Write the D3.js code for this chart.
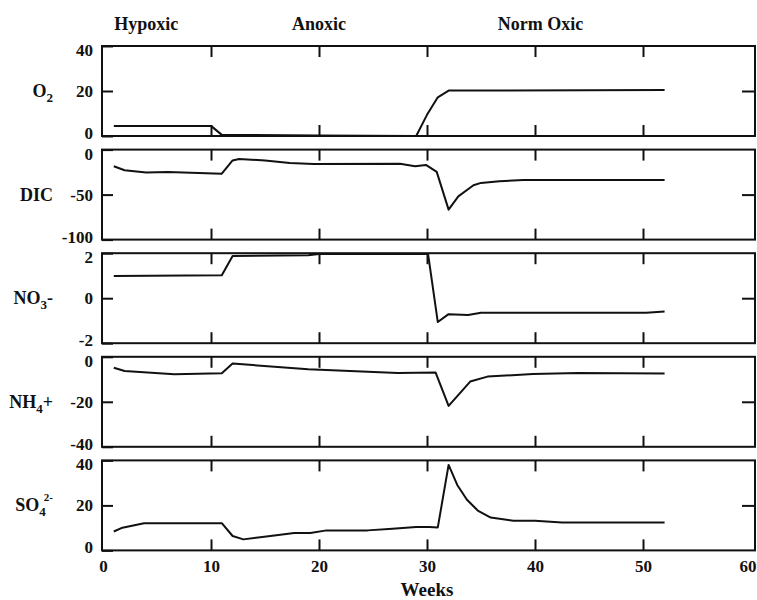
<!DOCTYPE html>
<html>
<head>
<meta charset="utf-8">
<script src="https://cdn.jsdelivr.net/npm/d3@7"></script>
<style>
  html, body { margin: 0; padding: 0; background: #fff; }
  svg { display: block; }
  text { font-family: "Liberation Serif", "Times New Roman", serif; font-weight: bold; fill: #111; }
</style>
</head>
<body>
<svg id="chart" width="757" height="600"></svg>
<script>
// Weekly water-chemistry series through three oxygen regimes
const phases = ["Hypoxic", "Anoxic", "Norm Oxic"];
const phaseCenters = [4, 20, 40.5];

const xTicks = [0, 10, 20, 30, 40, 50, 60];

const o2Weeks = [1, 10, 11, 20, 29, 30, 31, 32, 52];
const o2Vals  = [4.5, 4.5, 0.5, 0.2, 0, 9.4, 17.2, 20.2, 20.4];

const dicWeeks = [1, 2, 4, 6, 11, 12, 12.6, 15, 17.3, 19.5, 27.5, 28.9, 29.9, 30.9, 32, 32.9, 34.3, 35, 36.7, 38.9, 52];
const dicVals  = [-18.5, -23, -25.5, -24.8, -26.7, -12, -10.4, -12, -15, -16, -15.8, -18.5, -17, -24.8, -66.7, -52, -39.6, -37, -35.2, -33.7, -33.7];

const no3Weeks = [1, 11, 12, 19, 20, 30.1, 31, 32, 33.8, 35, 50.3, 52];
const no3Vals  = [0.99, 1.02, 1.88, 1.91, 1.96, 1.96, -1.06, -0.71, -0.75, -0.65, -0.65, -0.59];

const nh4Weeks = [1, 2, 6.6, 11, 12, 19, 27.3, 30.8, 32, 34, 35.6, 39.8, 44, 52];
const nh4Vals  = [-4.9, -6.3, -7.8, -7.3, -3.0, -5.5, -7.2, -7.0, -21.8, -11, -8.8, -7.6, -7.2, -7.4];

const so4Weeks = [1, 1.8, 3.8, 11, 12, 13, 15.5, 17.7, 19.2, 20.7, 24.5, 26.8, 29, 30.2, 31, 32, 32.8, 33.7, 34.7, 35.9, 38, 40, 42.5, 52];
const so4Vals  = [8.4, 10.1, 12.1, 12.1, 6.4, 4.9, 6.4, 7.7, 7.7, 8.9, 8.9, 9.6, 10.4, 10.4, 10.2, 38, 29.1, 22.5, 17.7, 14.6, 13.2, 13.2, 12.4, 12.4];

const panels = [
  { name: "O2",  label: [["O"], ["2", "sub"]],                domain: [0, 40],   ticks: [0, 20, 40],    weeks: o2Weeks,  vals: o2Vals },
  { name: "DIC", label: [["DIC"]],                            domain: [-100, 0], ticks: [-100, -50, 0], weeks: dicWeeks, vals: dicVals },
  { name: "NO3", label: [["NO"], ["3", "sub"], ["-"]],         domain: [-2, 2],   ticks: [-2, 0, 2],     weeks: no3Weeks, vals: no3Vals },
  { name: "NH4", label: [["NH"], ["4", "sub"], ["+"]],         domain: [-40, 0],  ticks: [-40, -20, 0],  weeks: nh4Weeks, vals: nh4Vals },
  { name: "SO4", label: [["SO"], ["4", "sub"], ["2-", "sup"]], domain: [0, 40],   ticks: [0, 20, 40],    weeks: so4Weeks, vals: so4Vals }
];

const svg = d3.select("#chart");
const left = 103, right = 751;
const panelH = 90, panelTop0 = 46, panelStep = 103.6;
const tickLen = 11;
const plainNum = d => String(d);   // ASCII hyphen for negatives

const x = d3.scaleLinear().domain([0, 60]).range([left, right]);

// Phase headings above the top panel
svg.selectAll("text.phase")
  .data(phases)
  .join("text")
  .attr("class", "phase")
  .attr("x", (d, i) => x(phaseCenters[i]))
  .attr("y", 30)
  .attr("text-anchor", "middle")
  .attr("font-size", 18)
  .text(d => d);

panels.forEach((p, i) => {
  const top = panelTop0 + i * panelStep;
  const y = d3.scaleLinear().domain(p.domain).range([top + panelH, top]);
  const g = svg.append("g");
  const isLast = i === panels.length - 1;

  // bottom axis: inward ticks, labels only on the last panel
  const bottomAxis = d3.axisBottom(x)
    .tickValues(isLast ? xTicks : xTicks.slice(1, -1))
    .tickSize(-tickLen)
    .tickPadding(isLast ? 10 : 0)
    .tickFormat(isLast ? plainNum : () => "");
  const gb = g.append("g").attr("transform", `translate(0,${top + panelH})`).call(bottomAxis);
  if (isLast) {
    gb.selectAll(".tick").filter(d => d === 0 || d === 60).select("line").remove();
    gb.selectAll(".tick").filter(d => d === 60).select("text")
      .attr("text-anchor", "end").attr("x", 756 - right);
  }

  // top axis: inward ticks
  const topAxis = d3.axisTop(x).tickValues(xTicks.slice(1, -1)).tickSize(-tickLen).tickFormat(() => "");
  g.append("g").attr("transform", `translate(0,${top})`).call(topAxis);

  // left axis with labels at min / mid / max
  const leftAxis = d3.axisLeft(y).tickValues(p.ticks).tickSize(-tickLen).tickPadding(9).tickFormat(plainNum);
  const gl = g.append("g").attr("transform", `translate(${left - 1},0)`).call(leftAxis);
  // keep the end labels inside their own panel so neighbouring panels don't collide
  gl.selectAll(".tick").filter(d => d === p.domain[1]).select("text").attr("dy", "0.32em").attr("y", 4);
  gl.selectAll(".tick").filter(d => d === p.domain[0]).select("text").attr("dy", "0.32em").attr("y", -3);

  // right axis: inward tick at the mid value
  const rightAxis = d3.axisRight(y).tickValues([p.ticks[1]]).tickSize(-13).tickFormat(() => "");
  g.append("g").attr("transform", `translate(${right + 4},0)`).call(rightAxis);

  g.selectAll(".domain").remove();
  g.selectAll(".tick line").attr("stroke", "#111").attr("stroke-width", 2);
  g.selectAll(".tick text")
    .attr("font-size", 17)
    .attr("font-family", "Liberation Serif, Times New Roman, serif")
    .attr("font-weight", "bold")
    .attr("fill", "#111");

  // frame
  g.append("rect")
    .attr("x", left - 1).attr("y", top)
    .attr("width", right + 4 - (left - 1)).attr("height", panelH)
    .attr("fill", "none").attr("stroke", "#111").attr("stroke-width", 2);

  // series line
  const pts = p.weeks.map((w, k) => [w, p.vals[k]]);
  g.append("path")
    .datum(pts)
    .attr("fill", "none")
    .attr("stroke", "#111")
    .attr("stroke-width", 2)
    .attr("stroke-linejoin", "round")
    .attr("d", d3.line().x(d => x(d[0])).y(d => y(d[1])));

  // variable name with sub/superscripts
  const t = g.append("text")
    .attr("x", 53)
    .attr("y", top + panelH / 2 + 6)
    .attr("text-anchor", "end")
    .attr("font-size", 18);
  let shifted = 0;
  p.label.forEach(([s, kind]) => {
    const ts = t.append("tspan").text(s);
    if (kind === "sub") {
      ts.attr("font-size", 13).attr("dy", 5);
      shifted = 5;
    } else if (kind === "sup") {
      ts.attr("font-size", 11).attr("dy", -15).attr("dx", -2);
      shifted -= 15;
    } else if (shifted !== 0) {
      ts.attr("dy", -shifted);
      shifted = 0;
    }
  });
});

// x-axis title
svg.append("text")
  .attr("x", x(30))
  .attr("y", 596)
  .attr("text-anchor", "middle")
  .attr("font-size", 19)
  .text("Weeks");
</script>
</body>
</html>
